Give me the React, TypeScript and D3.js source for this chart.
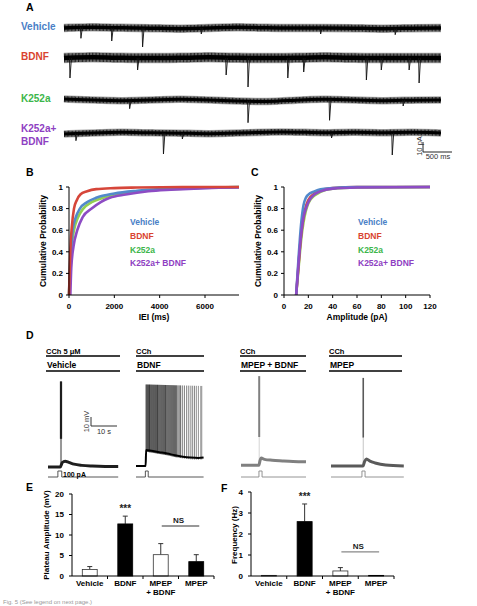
import * as d3 from 'd3';

const FONT = '"Liberation Sans", Arial, sans-serif';

// ---------- A: spontaneous EPSC traces ----------
const groupNames = ['Vehicle', 'BDNF', 'K252a', 'K252a+ BDNF'];
const groupLabelLines = [['Vehicle'], ['BDNF'], ['K252a'], ['K252a+', 'BDNF']];
const groupColors = ['#4a80c6', '#d9432f', '#3cb64a', '#8e40c2'];
const curveColors = ['#5289cb', '#d6463a', '#93cf52', '#8d4cc4'];

// event onset (ms) and peak amplitude (pA)
const eventTimesVehicle = [292, 823, 1355, 2367, 4425, 5711];
const eventAmpsVehicle = [11, 13, 19, 6, 6, 6];
const eventTimesBdnf = [103, 1269, 2796, 3173, 3859, 4133, 5214, 5471, 5951, 6123];
const eventAmpsBdnf = [20, 12, 17, 29, 20, 14, 22, 12, 12, 25];
const eventTimesK252a = [1132, 3173, 4579, 5848];
const eventAmpsK252a = [8, 22, 21, 6];
const eventTimesCombo = [206, 1715, 2041, 4613, 5660];
const eventAmpsCombo = [7, 21, 6, 5, 22];

// holding-current drift, one value per 500 ms (pA)
const driftVehicle = [0, 1, 0, 0, -1, 0, 1, 0, 0, 0, 0, -1, 0, 0];
const driftBdnf = [0, 1, 0, 0, 0, 1, 0, 0, 0, 1, 0, 0, 0, 0];
const driftK252a = [1, 0, -1, 0, 1, 0, -1, -2, 0, 1, 0, -1, 0, 0];
const driftCombo = [-1, 0, 1, 0, 0, -1, 0, 1, 1, 0, 1, 0, 1, 0];
const noisePtp = [7, 9, 6, 6];

const traceEvents = [
  [eventTimesVehicle, eventAmpsVehicle],
  [eventTimesBdnf, eventAmpsBdnf],
  [eventTimesK252a, eventAmpsK252a],
  [eventTimesCombo, eventAmpsCombo],
];
const traceDrift = [driftVehicle, driftBdnf, driftK252a, driftCombo];

// ---------- B / C: cumulative distributions ----------
type Pt = [number, number];
const ieiVehicle: Pt[] = [[0, 0], [40, 0.25], [100, 0.45], [160, 0.6], [300, 0.72], [480, 0.8], [800, 0.86], [1200, 0.9], [2000, 0.94], [3000, 0.965], [4000, 0.98], [5500, 0.99], [7500, 1]];
const ieiBdnf: Pt[] = [[0, 0], [40, 0.3], [80, 0.5], [120, 0.62], [220, 0.8], [350, 0.88], [500, 0.93], [800, 0.96], [1200, 0.98], [2000, 0.99], [3000, 0.995], [5000, 1], [7500, 1]];
const ieiK252a: Pt[] = [[0, 0], [40, 0.22], [100, 0.42], [220, 0.6], [400, 0.72], [630, 0.8], [1000, 0.86], [1500, 0.9], [2000, 0.93], [3000, 0.96], [4000, 0.975], [5500, 0.99], [7500, 1]];
const ieiCombo: Pt[] = [[60, 0], [100, 0.25], [200, 0.45], [365, 0.6], [600, 0.72], [1000, 0.8], [1400, 0.86], [1800, 0.9], [2500, 0.93], [3500, 0.96], [4500, 0.975], [6000, 0.99], [7500, 0.995]];

const ampVehicle: Pt[] = [[10, 0], [12, 0.35], [14, 0.65], [16, 0.83], [18, 0.9], [20, 0.93], [25, 0.96], [30, 0.98], [40, 0.99], [60, 1], [120, 1]];
const ampBdnf: Pt[] = [[10, 0], [12, 0.28], [14, 0.55], [16, 0.72], [18, 0.82], [20, 0.88], [25, 0.94], [30, 0.97], [40, 0.99], [60, 1], [120, 1]];
const ampK252a: Pt[] = [[10, 0], [12, 0.25], [14, 0.5], [16, 0.67], [18, 0.78], [20, 0.85], [25, 0.92], [30, 0.955], [40, 0.985], [60, 0.995], [120, 1]];
const ampCombo: Pt[] = [[10, 0], [12, 0.3], [14, 0.55], [16, 0.72], [18, 0.8], [20, 0.86], [25, 0.93], [30, 0.96], [40, 0.985], [60, 0.995], [120, 1]];

const probTicks = [0, 0.2, 0.4, 0.6, 0.8, 1];
const ieiTicks = [0, 2000, 4000, 6000];
const ampTicks = [0, 20, 40, 60, 80, 100, 120];

// ---------- D: current-clamp recordings ----------
const dTitles = ['Vehicle', 'BDNF', 'MPEP + BDNF', 'MPEP'];
const dDrug = ['CCh 5 μM', 'CCh', 'CCh', 'CCh'];
const dDuration = [27, 26, 25, 28]; // s
// membrane potential above rest (t s, mV)
const vmVehicle: Pt[] = [[0, 0], [4.7, 0], [5.5, 5], [6.6, 6.5], [8, 5.2], [10, 3.2], [13, 1.8], [17, 1], [22, 0.6], [27, 0.6]];
const vmBdnf: Pt[] = [[0, 1], [3.7, 1], [3.9, 19], [6, 18], [9, 16.5], [12, 15], [15, 13], [18, 11.5], [21, 10.5], [24, 10], [26, 10.5]];
const vmMpepBdnf: Pt[] = [[0, 2], [6.9, 2], [7.3, 7], [7.8, 10], [9, 8.5], [12, 7.5], [16, 6.8], [20, 6.2], [25, 5.8]];
const vmMpep: Pt[] = [[0, 1], [12.3, 1], [12.9, 6], [13.6, 9], [15, 6.5], [17, 4.5], [21, 2.2], [28, 1.2]];
const spikesVehicle = [4.8, 5.0, 5.2];
const spikesBdnf = [3.9, 4.3, 4.7, 5.1, 5.4, 5.8, 6.2, 6.6, 7.0, 7.4, 7.8, 8.2, 8.5, 8.9, 9.3, 9.7, 10.1, 10.5, 10.9, 11.3, 11.6, 12.0, 12.4, 12.8, 13.2, 13.6, 14.0, 14.4, 14.8, 15.2, 15.6, 16.1, 16.6, 17.1, 17.8, 18.6, 19.5, 20.3, 21.1, 21.8, 22.5, 23.2, 24.0, 24.9, 25.3];
const spikesMpepBdnf = [7.0];
const spikesMpep = [12.4];
const spikePeak = [95, 92, 101, 99]; // mV above rest
const stimPulse: Pt[] = [[3.8, 5.3], [3.6, 4.7], [6.9, 8.1], [11.9, 13.1]];

// ---------- E / F: summary bars ----------
const barGroups = ['Vehicle', 'BDNF', 'MPEP + BDNF', 'MPEP'];
const plateauMean = [1.6, 12.7, 5.2, 3.5];
const plateauSem = [0.7, 1.9, 2.7, 1.7];
const freqMean = [0.03, 2.59, 0.24, 0.03];
const freqSem = [0, 0.84, 0.16, 0];
const barFills = ['#fff', '#000', '#fff', '#000'];

const boldText = { fontFamily: FONT, fontWeight: 700 } as const;

function PanelLetter({ x, y, t }: { x: number; y: number; t: string }) {
  return <text x={x} y={y} {...boldText} fontSize={10.5} dy="0.35em">{t}</text>;
}

function TracesA() {
  const x = d3.scaleLinear().domain([0, 6535]).range([64, 443]);
  const pa = d3.scaleLinear().domain([0, 10]).range([0, 10]);
  const rowY = [28, 58, 100, 133];
  return (
    <g>
      {groupLabelLines.map((lines, i) =>
        lines.map((l, j) => (
          <text key={`${i}-${j}`} x={21} y={(i === 3 ? 128 : rowY[i] - 2) + j * 13} dy="0.35em" {...boldText} fontSize={10} fill={groupColors[i]}>{l}</text>
        ))
      )}
      {traceDrift.map((drift, i) => {
        const y0 = rowY[i];
        const line = d3.line<number>().x((_, k) => x(k * 500)).y((d) => y0 - pa(d)).curve(d3.curveBasis);
        const d = line(drift) ?? '';
        const [times, amps] = traceEvents[i];
        const ev = times.map((t, k) => {
          const base = y0 - pa(drift[Math.round(t / 500)] ?? 0) * 0.7;
          return `M${x(t - 8)},${base}L${x(t)},${base + pa(amps[k])}L${x(t + 25)},${base}`;
        }).join('');
        const w = pa(noisePtp[i]);
        return (
          <g key={i} fill="none">
            <path d={d} stroke="#8a8a8a" strokeWidth={w + 1.5} strokeOpacity={0.7} />
            <path d={d} stroke="#000" strokeWidth={w} strokeDasharray="0.9 0.5" strokeOpacity={0.85} />
            <path d={d} stroke="#000" strokeWidth={w * 0.5} />
            <path d={ev} stroke="#111" strokeWidth={0.9} />
          </g>
        );
      })}
      {/* scale bar */}
      <path d={`M423,${152 - pa(10)}V152H${423 + x(500) - x(0)}`} stroke="#222" strokeWidth={1} fill="none" />
      <text transform="translate(419,146) rotate(-90)" textAnchor="middle" dy="0.35em" fontFamily={FONT} fontSize={7.5} fill="#333">10 pA</text>
      <text x={438} y={159} textAnchor="middle" fontFamily={FONT} fontSize={7.5} fill="#333">500 ms</text>
    </g>
  );
}

function CdfPanel({ left, right, xDomain, xTicks, series, order, xTitle, legendX, yTitleX }: {
  left: number; right: number; xDomain: [number, number]; xTicks: number[]; series: Pt[][]; order: number[]; xTitle: string; legendX: number; yTitleX: number;
}) {
  const x = d3.scaleLinear().domain(xDomain).range([left, right]);
  const y = d3.scaleLinear().domain([0, 1]).range([295, 187]);
  const line = d3.line<Pt>().x((d) => x(d[0])).y((d) => y(d[1])).curve(d3.curveMonotoneX);
  const fmt = (v: number) => (v === 0 || v === 1 ? String(v) : v.toFixed(1));
  return (
    <g>
      {order.map((i) => (
        <path key={i} d={line(series[i]) ?? ''} fill="none" stroke={curveColors[i]} strokeWidth={2.6} strokeLinejoin="round" />
      ))}
      <g stroke="#000" strokeWidth={1} fill="none">
        <path d={`M${left},${y(1)}V${y(0)}H${right}`} />
        {probTicks.map((t) => <path key={t} d={`M${left - 3},${y(t)}H${left}`} />)}
        {xTicks.map((t) => <path key={t} d={`M${x(t)},${y(0)}v3`} />)}
      </g>
      {probTicks.map((t) => (
        <text key={t} x={left - 6} y={y(t)} dy="0.35em" textAnchor="end" {...boldText} fontSize={8}>{fmt(t)}</text>
      ))}
      {xTicks.map((t) => (
        <text key={t} x={x(t)} y={309} textAnchor="middle" {...boldText} fontSize={8}>{t}</text>
      ))}
      <text x={(left + right) / 2} y={320} textAnchor="middle" {...boldText} fontSize={8.5}>{xTitle}</text>
      <text transform={`translate(${yTitleX},241) rotate(-90)`} textAnchor="middle" dy="0.35em" {...boldText} fontSize={8.5}>Cumulative Probability</text>
      {groupNames.map((n, i) => (
        <text key={n} x={legendX} y={222 + i * 13.8} dy="0.35em" {...boldText} fontSize={8.5} fill={groupColors[i]}>{n}</text>
      ))}
    </g>
  );
}

function ClampPanel({ i, x0, hx0, hx1, vm, spikes, color, spikeWidth }: {
  i: number; x0: number; hx0: number; hx1: number; vm: Pt[]; spikes: number[]; color: string; spikeWidth: number;
}) {
  const x = d3.scaleLinear().domain([0, dDuration[i]]).range([x0, x0 + dDuration[i] * 2.6]);
  const mv = d3.scaleLinear().domain([0, 10]).range([467, 458]);
  const vmAt = d3.scaleLinear().domain(vm.map((d) => d[0])).range(vm.map((d) => d[1]));
  const line = d3.line<Pt>().x((d) => x(d[0])).y((d) => mv(d[1])).curve(d3.curveMonotoneX);
  // dense trains fade from black to grey as the burst slows
  const fade = d3.scaleLinear().domain([spikes[0], spikes[spikes.length - 1]]).range([0.95, 0.45]);
  const [p0, p1] = stimPulse[i];
  const stimY = 477;
  const single = spikes.length < 5;
  return (
    <g>
      <text x={hx0} y={353.5} {...boldText} fontSize={7.5}>{dDrug[i]}</text>
      <path d={`M${hx0},356H${hx1}`} stroke="#000" strokeWidth={1.4} />
      <text x={hx0 + 1} y={367.5} {...boldText} fontSize={8.5}>{dTitles[i]}</text>
      <path d={`M${hx0},371H${hx1}`} stroke="#000" strokeWidth={1.6} />
      {spikes.map((t, k) => {
        const top = mv(spikePeak[i] - (single ? 0 : (t / dDuration[i]) * 2));
        const bottom = mv(vmAt(t) - (single ? 0 : 2));
        if (single) {
          const split = mv(spikePeak[i] * 0.33);
          return (
            <g key={k}>
              <path d={`M${x(t)},${bottom}V${split}`} stroke={color} strokeOpacity={0.35} strokeWidth={1} />
              <path d={`M${x(t)},${split}V${top}`} stroke={color} strokeWidth={spikeWidth} />
            </g>
          );
        }
        return <path key={k} d={`M${x(t)},${bottom}V${top}`} stroke={color} strokeOpacity={fade(t)} strokeWidth={spikeWidth} />;
      })}
      <path d={line(vm) ?? ''} fill="none" stroke={color} strokeWidth={single ? 3 : 2} />
      <path d={`M${x(0)},${stimY}H${x(p0)}V${stimY - 6}H${x(p1)}V${stimY}H${x(dDuration[i])}`} fill="none" stroke={i < 2 ? '#444' : '#888'} strokeWidth={0.9} />
    </g>
  );
}

function BarPanel({ left, right, yTop, yBottom, yMax, yTicks, means, sems, title, titleX, starY, nsY, nsColor }: {
  left: number; right: number; yTop: number; yBottom: number; yMax: number; yTicks: number[]; means: number[]; sems: number[]; title: string; titleX: number; starY: number; nsY: number; nsColor: string;
}) {
  const x = d3.scaleBand<string>().domain(barGroups).range([left, right]).paddingInner(0.58).paddingOuter(0.29);
  const step = x.step();
  const y = d3.scaleLinear().domain([0, yMax]).range([yBottom, yTop]);
  const cx = (g: string) => (x(g) ?? 0) + x.bandwidth() / 2;
  return (
    <g>
      {barGroups.map((g, k) => (
        <g key={g}>
          {sems[k] > 0 && (
            <path d={`M${cx(g)},${y(means[k])}V${y(means[k] + sems[k])}M${cx(g) - 2.5},${y(means[k] + sems[k])}h5`} stroke="#333" strokeWidth={1} />
          )}
          <rect x={x(g)} y={y(means[k])} width={x.bandwidth()} height={y(0) - y(means[k])} fill={barFills[k]} stroke={k === 0 || k === 2 ? '#333' : '#000'} strokeWidth={0.8} />
        </g>
      ))}
      <g stroke="#000" strokeWidth={1} fill="none">
        <path d={`M${left},${yTop}V${yBottom}H${right}`} />
        {yTicks.map((t) => <path key={t} d={`M${left - 3},${y(t)}H${left}`} />)}
        {barGroups.map((g, k) => <path key={g} d={`M${left + step * (k + 1)},${yBottom}v3`} />)}
      </g>
      {yTicks.map((t) => (
        <text key={t} x={left - 8} y={y(t)} dy="0.35em" textAnchor="end" {...boldText} fontSize={8}>{t}</text>
      ))}
      {barGroups.map((g) => {
        const parts = g === 'MPEP + BDNF' ? ['MPEP', '+ BDNF'] : [g];
        return parts.map((p, j) => (
          <text key={g + j} x={cx(g)} y={586 + j * 8.5} textAnchor="middle" {...boldText} fontSize={8}>{p}</text>
        ));
      })}
      <text transform={`translate(${titleX},535) rotate(-90)`} textAnchor="middle" dy="0.35em" {...boldText} fontSize={8}>{title}</text>
      <text x={cx('BDNF')} y={y(starY)} textAnchor="middle" {...boldText} fontSize={10} fill="#222">***</text>
      <path d={`M${cx('MPEP + BDNF') + 1},${y(nsY)}H${cx('MPEP') + 3}`} stroke={nsColor} strokeWidth={1.1} />
      <text x={(cx('MPEP + BDNF') + cx('MPEP')) / 2} y={y(nsY) - 3} textAnchor="middle" {...boldText} fontSize={8} fill="#222">NS</text>
    </g>
  );
}

export default function App() {
  return (
    <svg width={477} height={606} viewBox="0 0 477 606" style={{ position: 'absolute', left: 0, top: 0, background: '#fff' }}>
      <PanelLetter x={26} y={7} t="A" />
      <TracesA />

      <PanelLetter x={26} y={172} t="B" />
      <CdfPanel left={69} right={239} xDomain={[0, 7500]} xTicks={ieiTicks} series={[ieiVehicle, ieiBdnf, ieiK252a, ieiCombo]} order={[2, 0, 3, 1]} xTitle="IEI (ms)" legendX={130} yTitleX={43} />
      <PanelLetter x={251} y={172} t="C" />
      <CdfPanel left={284} right={430} xDomain={[0, 120]} xTicks={ampTicks} series={[ampVehicle, ampBdnf, ampK252a, ampCombo]} order={[2, 1, 0, 3]} xTitle="Amplitude (pA)" legendX={358} yTitleX={258} />

      <PanelLetter x={26} y={335} t="D" />
      <ClampPanel i={0} x0={48} hx0={46} hx1={120} vm={vmVehicle} spikes={spikesVehicle} color="#1e1e1e" spikeWidth={1.2} />
      <ClampPanel i={1} x0={136} hx0={136} hx1={204} vm={vmBdnf} spikes={spikesBdnf} color="#000" spikeWidth={0.9} />
      <ClampPanel i={2} x0={241} hx0={240} hx1={306} vm={vmMpepBdnf} spikes={spikesMpepBdnf} color="#808080" spikeWidth={2} />
      <ClampPanel i={3} x0={331} hx0={329} hx1={402} vm={vmMpep} spikes={spikesMpep} color="#5a5a5a" spikeWidth={1.6} />
      {/* D scale bars */}
      <path d="M91,417V426H117" fill="none" stroke="#333" strokeWidth={1} />
      <text transform="translate(86,421.5) rotate(-90)" textAnchor="middle" dy="0.35em" fontFamily={FONT} fontSize={7.5} fill="#333">10 mV</text>
      <text x={104} y={434} textAnchor="middle" fontFamily={FONT} fontSize={7.5} fill="#333">10 s</text>
      <text x={63} y={476.5} {...boldText} fontSize={7}>100 pA</text>

      <PanelLetter x={26} y={487} t="E" />
      <BarPanel left={72} right={214} yTop={494} yBottom={576} yMax={20} yTicks={[0, 5, 10, 15, 20]} means={plateauMean} sems={plateauSem} title="Plateau Amplitude (mV)" titleX={46} starY={15.6} nsY={12.2} nsColor="#333" />
      <PanelLetter x={221} y={488} t="F" />
      <BarPanel left={251} right={394} yTop={492} yBottom={576} yMax={4} yTicks={[0, 1, 2, 3, 4]} means={freqMean} sems={freqSem} title="Frequency (Hz)" titleX={234} starY={3.6} nsY={1.15} nsColor="#888" />

      <text x={3} y={604} fontFamily={FONT} fontSize={6} fill="#999">Fig. 5 (See legend on next page.)</text>
    </svg>
  );
}
